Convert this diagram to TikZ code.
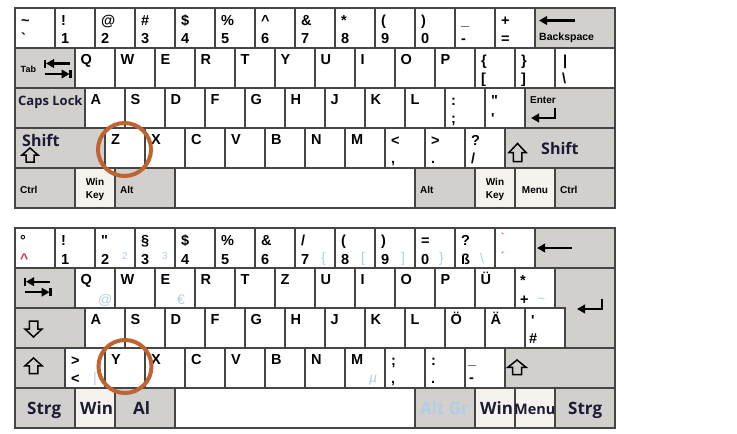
\documentclass[tikz,border=0pt]{standalone}
\usepackage{fontspec}
\setmainfont{Liberation Sans}
\newfontfamily\osb{Open Sans}
\usetikzlibrary{arrows.meta}
\definecolor{keygray}{HTML}{D2D0CD}
\definecolor{winkey}{HTML}{F6F3EF}
\definecolor{keyline}{HTML}{454545}
\definecolor{navy}{HTML}{1B1B35}
\definecolor{lblue}{HTML}{B3CDE5}
\definecolor{kred}{HTML}{D8353C}
\definecolor{ringc}{HTML}{BF6430}
\newcounter{lc}
\newcommand\K[5][key]{\node[#1,minimum width=#4pt] (#5) at (#2,#3) {};}
\newcommand\T[5][lab]{\stepcounter{lc}\node[#1] (t\arabic{lc}) at ([shift={(#3,#4)}]#2.north west) {#5};}
\newcommand\uparr[4]{\draw[outl] (#1,#2) -- (#1+#3,#2+#4/2) -- (#1+#3/2,#2+#4/2) -- (#1+#3/2,#2+#4) -- (#1-#3/2,#2+#4) -- (#1-#3/2,#2+#4/2) -- (#1-#3,#2+#4/2) -- cycle;}
\newcommand\downarr[4]{\draw[outl] (#1,#2) -- (#1+#3,#2-#4/2) -- (#1+#3/2,#2-#4/2) -- (#1+#3/2,#2-#4) -- (#1-#3/2,#2-#4) -- (#1-#3/2,#2-#4/2) -- (#1-#3,#2-#4/2) -- cycle;}
\newcommand\tabicon[2]{%
  \draw[icon] (#1+25,#2) -- (#1+1,#2);
  \draw[bar] (#1,#2-4) -- (#1,#2+4);
  \draw[icon] (#1,#2+10.5) -- (#1+24.5,#2+10.5);
  \draw[bar] (#1+25.5,#2+6.5) -- (#1+25.5,#2+14.5);}
\begin{document}
\begin{tikzpicture}[x=1pt,y=-1pt,
  key/.style={draw=keyline,line width=1.3pt,fill=white,minimum height=40pt,inner sep=0pt,outer sep=0pt,anchor=north west},
  gk/.style={key,fill=keygray},
  wk/.style={key,fill=winkey},
  lab/.style={anchor=base west,inner sep=0pt,font=\fontsize{14.5}{15}\selectfont\bfseries},
  sm/.style={anchor=base west,inner sep=0pt,font=\fontsize{#1}{#1}\selectfont\bfseries},
  sm/.default=10,
  smc/.style={sm=#1,anchor=base},
  smc/.default=10,
  os/.style={anchor=base west,inner sep=0pt,text=navy,font=\osb\fontsize{#1}{#1}\selectfont\bfseries},
  os/.default=17,
  oslb/.style={os,text=lblue},
  lb/.style={anchor=base west,inner sep=0pt,text=lblue,font=\fontsize{#1}{#1}\selectfont},
  lb/.default=14,
  lbi/.style={anchor=base west,inner sep=0pt,text=lblue,font=\fontsize{14}{14}\selectfont\itshape},
  rd/.style={anchor=base west,inner sep=0pt,text=kred,font=\fontsize{#1}{#1}\selectfont\bfseries},
  rd/.default=12,
  icon/.style={line width=2.4pt,line join=miter,-{Triangle[length=8pt,width=8.5pt]}},
  bar/.style={line width=2.4pt},
  outl/.style={draw=black,line width=1.5pt,line join=miter},
  ring/.style={draw=ringc,line width=4pt}]
\useasboundingbox (0,0) rectangle (737,434);
\fill[white] (0,0) rectangle (737,434);
% ================= US layout =================
\foreach \i/\ua/\la in {0/\textasciitilde/\textasciigrave,1/!/1,2/@/2,3/\#/3,4/\$/4,5/\%/5,6/\textasciicircum/6,7/\&/7,8/*/8,9/{(}/9,10/{)}/0,11/\_/-,12/+/=}{
  \K{15+40*\i}{8}{40}{ua\i}
  \T{ua\i}{6}{17}{\ua}
  \T{ua\i}{6}{35}{\la}
}
\K[gk]{535}{8}{80}{ubksp}
\T[sm=10.5]{ubksp}{4}{32}{Backspace}
\draw[icon] (575,20.5) -- (539,20.5);
% row 2
\K[gk]{15}{48}{60}{utab}
\T[sm=9]{utab}{5.5}{24}{Tab}
\tabicon{45}{63.5}
\foreach \i/\c in {0/Q,1/W,2/E,3/R,4/T,5/Y,6/U,7/I,8/O,9/P}{
  \K{75+40*\i}{48}{40}{ub\i}\T{ub\i}{5.5}{16}{\c}}
\K{475}{48}{40}{ubra}\T{ubra}{6}{17}{\{}\T{ubra}{6}{35}{[}
\K{515}{48}{40}{ubrb}\T{ubrb}{6}{17}{\}}\T{ubrb}{6}{35}{]}
\K{555}{48}{60}{ubsl}\T{ubsl}{8}{17}{\textbar}\T{ubsl}{7}{35}{\textbackslash}
% row 3
\K[gk]{15}{88}{70}{ucaps}\T[os=13]{ucaps}{3}{17}{Caps Lock}
\foreach \i/\c in {0/A,1/S,2/D,3/F,4/G,5/H,6/J,7/K,8/L}{
  \K{85+40*\i}{88}{40}{uc\i}\T{uc\i}{5.5}{16}{\c}}
\K{445}{88}{40}{usemi}\T{usemi}{6}{17}{:}\T{usemi}{6}{35}{;}
\K{485}{88}{40}{uquot}\T{uquot}{6}{17}{\textquotedbl}\T{uquot}{6}{35}{\textquotesingle}
\K[gk]{525}{88}{90}{uent}\T[sm]{uent}{5}{15}{Enter}
\draw[icon] (555,107.5) -- (555,118) -- (531,118);
% row 4
\K[gk]{15}{128}{90}{ulsh}\T[os=16]{ulsh}{7}{18}{Shift}
\uparr{30}{148}{8}{14}
\foreach \i/\c in {0/Z,1/X,2/C,3/V,4/B,5/N,6/M}{
  \K{105+40*\i}{128}{40}{ud\i}\T{ud\i}{6}{16}{\c}}
\K{385}{128}{40}{ult}\T{ult}{6}{17}{<}\T{ult}{6}{35}{,}
\K{425}{128}{40}{ugt}\T{ugt}{6}{17}{>}\T{ugt}{6}{35}{.}
\K{465}{128}{40}{uqm}\T{uqm}{6}{17}{?}\T{uqm}{6}{35}{/}
\K[gk]{505}{128}{110}{ursh}\T[os=16]{ursh}{36}{26}{Shift}
\uparr{517.5}{143.5}{8.5}{18}
% row 5
\K[gk]{15}{168}{60}{ulctl}\T[sm]{ulctl}{5}{25}{Ctrl}
\K[wk]{75}{168}{40}{ulwin}\T[smc]{ulwin}{20}{17}{Win}\T[smc]{ulwin}{20}{30}{Key}
\K[gk]{115}{168}{60}{ulalt}\T[sm]{ulalt}{5}{25}{Alt}
\K{175}{168}{240}{uspace}
\K[gk]{415}{168}{60}{uralt}\T[sm]{uralt}{5}{25}{Alt}
\K[wk]{475}{168}{40}{urwin}\T[smc]{urwin}{20}{17}{Win}\T[smc]{urwin}{20}{30}{Key}
\K[wk]{515}{168}{40}{umenu}\T[smc]{umenu}{20}{25}{Menu}
\K[gk]{555}{168}{60}{urctl}\T[sm]{urctl}{5}{25}{Ctrl}
% ================= German layout =================
\K{15}{228}{40}{ga0}\T{ga0}{5}{17}{°}\T[rd=14]{ga0}{5}{35}{\textasciicircum}
\foreach \i/\ua/\la in {1/!/1,2/\textquotedbl/2,3/§/3,4/\$/4,5/\%/5,6/\&/6,7/{/}/7,8/{(}/8,9/{)}/9,10/=/0,11/?/ß}{
  \K{15+40*\i}{228}{40}{ga\i}
  \T{ga\i}{6}{17}{\ua}
  \T{ga\i}{6}{36}{\la}
}
\T[lb=10]{ga2}{27}{31}{2}
\T[lb=10]{ga3}{27}{31}{3}
\T[lb]{ga7}{26}{34}{\{}
\T[lb]{ga8}{26}{34}{[}
\T[lb]{ga9}{26}{34}{]}
\T[lb]{ga10}{24}{34}{\}}
\T[lb]{ga11}{25}{35}{\textbackslash}
\K{495}{228}{40}{ga12}\T[rd=10]{ga12}{6}{12}{\textasciigrave}\T[rd=10]{ga12}{6}{31}{´}
\K[gk]{535}{228}{80}{gbksp}
\draw[icon] (572,248) -- (537,248);
% row 2
\K[gk]{15}{268}{60}{gtab}
\tabicon{25}{281.7}
\foreach \i/\c in {0/Q,1/W,2/E,3/R,4/T,5/Z,6/U,7/I,8/O,9/P,10/Ü}{
  \K{75+40*\i}{268}{40}{gb\i}\T{gb\i}{5.5}{16}{\c}}
\T[lb]{gb0}{23}{36}{@}
\T[lb]{gb2}{22}{36}{€}
\K{515}{268}{40}{gplus}\T{gplus}{5}{17}{*}\T{gplus}{5}{36}{+}\T[lb]{gplus}{22}{35}{\textasciitilde}
\path[draw=keyline,line width=1.3pt,fill=keygray] (555,268) -- (615,268) -- (615,348) -- (565,348) -- (565,308) -- (555,308) -- cycle;
\draw[icon] (602,298.5) -- (602,309) -- (577,309);
% row 3
\K[gk]{15}{308}{70}{gcaps}
\downarr{33.5}{337}{8.5}{16}
\foreach \i/\c in {0/A,1/S,2/D,3/F,4/G,5/H,6/J,7/K,8/L,9/Ö,10/Ä}{
  \K{85+40*\i}{308}{40}{gc\i}\T{gc\i}{5.5}{16}{\c}}
\K{525}{308}{40}{ghash}\T{ghash}{6}{17}{\textquotesingle}\T{ghash}{4}{35}{\#}
% row 4
\K[gk]{15}{348}{50}{glsh}
\uparr{33.5}{358}{8.5}{15.5}
\K{65}{348}{40}{gltgt}\T{gltgt}{6}{17}{>}\T{gltgt}{6}{35}{<}\T[lb]{gltgt}{28}{34}{\textbar}
\foreach \i/\c in {0/Y,1/X,2/C,3/V,4/B,5/N,6/M}{
  \K{105+40*\i}{348}{40}{gd\i}\T{gd\i}{6}{16}{\c}}
\T[lbi]{gd6}{24}{34}{µ}
\K{385}{348}{40}{gsemi}\T{gsemi}{6}{17}{;}\T{gsemi}{6}{35}{,}
\K{425}{348}{40}{gcolon}\T{gcolon}{6}{17}{:}\T{gcolon}{6}{35}{.}
\K{465}{348}{40}{gdash}\T{gdash}{3}{16}{\_}\T{gdash}{4}{34}{-}
\K[gk]{505}{348}{110}{grsh}
\uparr{517}{360}{9}{14.5}
% row 5
\K[gk]{15}{388}{60}{gstrg}\T[os]{gstrg}{12}{26}{Strg}
\K[wk]{75}{388}{40}{gwin}\T[os]{gwin}{5}{26}{Win}
\K[gk]{115}{388}{60}{galt}\T[os]{galt}{18}{26}{Al}
\K{175}{388}{240}{gspace}
\K[gk]{415}{388}{60}{galtgr}\T[oslb]{galtgr}{5}{26}{Alt Gr}
\K[wk]{475}{388}{40}{grwin}\T[os]{grwin}{5}{26}{Win}
\K[wk]{515}{388}{40}{gmenu}\T[os=14.5]{gmenu}{-1}{26}{Menu}
\K[gk]{555}{388}{60}{grstrg}\T[os]{grstrg}{13}{26}{Strg}
% rings
\draw[ring] (124.5,149.5) circle[radius=26.5pt];
\draw[ring] (125,366.5) circle[radius=26.5pt];
\end{tikzpicture}
\end{document}
